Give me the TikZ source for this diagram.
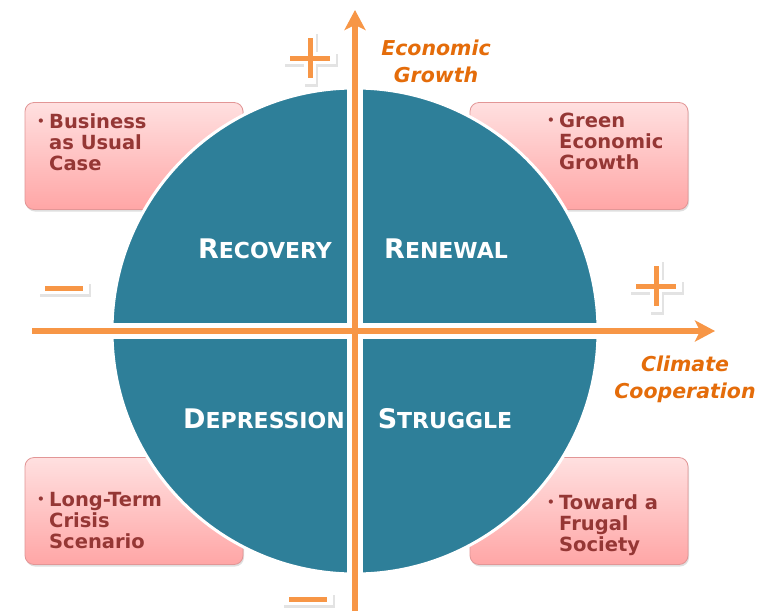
\documentclass[tikz,border=0pt]{standalone}
\usepackage{fontspec}
\setmainfont{DejaVu Sans}
\usetikzlibrary{arrows.meta,shadows}
\definecolor{globeteal}{RGB}{46,127,153}
\definecolor{axisorange}{RGB}{247,150,70}
\definecolor{labelorange}{RGB}{228,108,10}
\definecolor{boxtop}{RGB}{255,224,224}
\definecolor{boxbottom}{RGB}{255,166,166}
\definecolor{boxedge}{RGB}{226,150,150}
\definecolor{boxtext}{RGB}{149,55,53}
\newcommand{\bul}{\makebox[12pt][l]{\raisebox{3pt}{\fontsize{12}{12}\selectfont\textbullet}}}
\newcommand{\bulgap}{\hspace*{12pt}}
\newcommand{\quadname}[2]{{\fontsize{27}{27}\selectfont #1}{\fontsize{22}{22}\selectfont #2}}

\begin{document}
\begin{tikzpicture}[x=1pt,y=-1pt,
                    scenario/.style={draw=boxedge, line width=0.8pt, rounded corners=9pt, top color=boxtop, bottom color=boxbottom,
                                     minimum width=218pt, minimum height=107pt, inner sep=0pt,
                                     drop shadow={opacity=0.25, shadow xshift=1pt, shadow yshift=-2pt}},
                    scentext/.style={inner sep=0pt, anchor=north west, align=left, text=boxtext, font=\bfseries\fontsize{19.5}{21}\selectfont},
                    quadrant/.style={inner sep=0pt, anchor=base, text=white, font=\bfseries},
                    axislabel/.style={inner sep=0pt, anchor=north, align=center, text=labelorange, font=\bfseries\itshape\fontsize{20.5}{27}\selectfont},
                    axisline/.style={draw=axisorange, line width=6pt, -{Stealth[length=20pt,width=21pt,inset=5pt]}},
                    gap/.style={draw=white, line width=16pt},
                    signmark/.style={draw=axisorange, line width=5pt},
                    signhalo/.style={draw=white, line width=12pt, line cap=rect},
                    signshadow/.style={draw=black!18, line width=13pt, line cap=rect, opacity=0.6}]
                    \fill[white] (0,0) rectangle (758,611);
                    \node[scenario] (busBox) at (134,156) {};
                    \node[scenario] (greenBox) at (579,156) {};
                    \node[scenario] (crisisBox) at (134,511) {};
                    \node[scenario] (frugalBox) at (579,511) {};
                    \node[circle, fill=globeteal, draw=white, line width=3pt, minimum size=486pt, inner sep=0pt] (globe) at (355,331) {};
                    \draw[gap] (globe.north) -- (globe.south);
                    \draw[gap] (globe.west) -- (globe.east);
                    \coordinate (xfrom) at (32,331);
                    \coordinate (xto) at (715,331);
                    \coordinate (yfrom) at (355,611);
                    \coordinate (yto) at (355,10);
                    \draw[axisline] (xfrom) -- (xto);
                    \draw[axisline] (yfrom) -- (yto);
                    \node[quadrant] (recovery) at (265,258) {\quadname{R}{ECOVERY}};
                    \node[quadrant] (renewal) at (446,258) {\quadname{R}{ENEWAL}};
                    \node[quadrant] (depression) at (264,428) {\quadname{D}{EPRESSION}};
                    \node[quadrant] (struggle) at (445,428) {\quadname{S}{TRUGGLE}};
                    \node[scentext] (busText) at (37,113) {\bul Business\\\bulgap as Usual\\\bulgap Case};
                    \node[scentext] (greenText) at (547,113) {\bul Green\\\bulgap Economic\\\bulgap Growth};
                    \node[scentext] (crisisText) at (37,492) {\bul Long-Term\\\bulgap Crisis\\\bulgap Scenario};
                    \node[scentext] (frugalText) at (547,494) {\bul Toward a\\\bulgap Frugal\\\bulgap Society};
                    \node[axislabel] (growth) at (436,40) {Economic\\Growth};
                    \node[axislabel] (coop) at (685,356) {Climate\\Cooperation};
                    \draw[signshadow] (291,60) -- (331,60) (311,40) -- (311,80);
                    \draw[signhalo] (290,58) -- (330,58) (310,38) -- (310,78);
                    \draw[signmark] (290,58) -- (330,58) (310,38) -- (310,78);
                    \draw[signshadow] (637,288) -- (677,288) (657,268) -- (657,308);
                    \draw[signhalo] (636,286) -- (676,286) (656,266) -- (656,306);
                    \draw[signmark] (636,286) -- (676,286) (656,266) -- (656,306);
                    \draw[signshadow] (46,290) -- (84,290);
                    \draw[signhalo] (45,288) -- (83,288);
                    \draw[signmark] (45,288) -- (83,288);
                    \draw[signshadow] (290,601) -- (328,601);
                    \draw[signhalo] (289,599) -- (327,599);
                    \draw[signmark] (289,599) -- (327,599);
\end{tikzpicture}
\end{document}
